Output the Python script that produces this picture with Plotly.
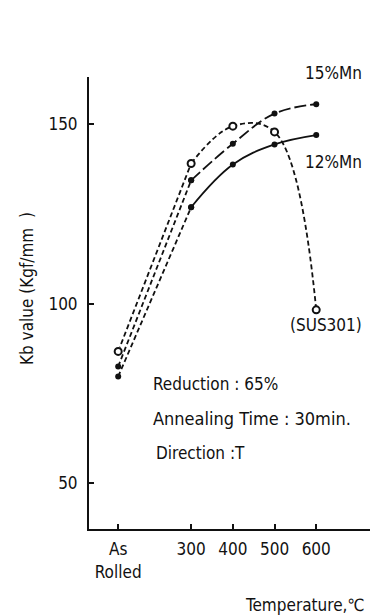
import plotly.graph_objects as go

# ---- data ----
temps = [300, 400, 500, 600]
as_rolled_pos = 125          # axis position used for the "As Rolled" state
x_labels = ["As<br>Rolled", "300", "400", "500", "600"]
mn15 = [82.5, 134.4, 144.6, 153.0, 155.6]
mn12 = [79.7, 126.9, 138.8, 144.4, 147.0]
sus301 = [86.7, 139.1, 149.5, 147.9, 98.3]
y_ticks = [50, 100, 150]

xs = [as_rolled_pos] + temps

FONT = "Liberation Sans Narrow, DejaVu Sans Condensed, Arial Narrow, sans-serif"
BLACK = "#111111"

# plot area in pixels
W, H = 371, 615
L, R, T, B = 89, 1, 77, 86
PW, PH = W - L - R, H - T - B


def px(xp, yp):
    return (xp - L) / PW, (H - B - yp) / PH


fig = go.Figure()

def seg(x, y, dash, shape, symbol, msize, mline):
    fig.add_trace(go.Scatter(
        x=x, y=y, mode="lines+markers", line=dict(color=BLACK, width=1.8, dash=dash, shape=shape, smoothing=1.1),
        marker=dict(symbol=symbol, size=msize, color=BLACK if symbol == "circle" else "white",
                    line=dict(color=BLACK, width=mline)),
        showlegend=False, hoverinfo="skip"))

# As rolled -> 300 dashed links
seg(xs[:2], mn12[:2], "5px,3px", "linear", "circle", 6, 0)
seg(xs[:2], mn15[:2], "5px,3px", "linear", "circle", 6, 0)
seg(xs[:2], sus301[:2], "5px,3px", "linear", "circle-open", 7, 2)
# annealed parts
seg(xs[1:], mn12[1:], "solid", "spline", "circle", 6, 0)
seg(xs[1:], mn15[1:], "12px,4px", "spline", "circle", 6, 0)
seg(xs[1:], sus301[1:], "5px,3px", "spline", "circle", 1, 0)
fig.add_trace(go.Scatter(x=xs, y=sus301, mode="markers",
                         marker=dict(symbol="circle", size=7, color="white", line=dict(color=BLACK, width=2)),
                         showlegend=False, hoverinfo="skip"))

annots = []
def text(t, xp, yp, size=17, xanchor="center", angle=0):
    x, y = px(xp, yp)
    annots.append(dict(text=t, x=x, y=y, xref="paper", yref="paper", xanchor=xanchor, yanchor="middle",
                       showarrow=False, textangle=angle, font=dict(family=FONT, size=size, color=BLACK)))

text("15%Mn", 333, 73)
text("12%Mn", 333, 162)
text("(SUS301)", 326, 325)
text("Reduction : 65%", 151, 384, xanchor="left")
text("Annealing Time : 30min.", 151, 418, xanchor="left", size=18)
text("Direction :T", 154, 453, xanchor="left")
text("Temperature,℃", 367, 605, xanchor="right")
text("Kb value (Kgf/mm  )", 27, 289, angle=-90)

fig.update_layout(
    width=W, height=H, margin=dict(l=L, r=R, t=T, b=B),
    paper_bgcolor="white", plot_bgcolor="white",
    annotations=annots,
    xaxis=dict(range=[55, 729], tickvals=xs, ticktext=x_labels, showgrid=False, zeroline=False,
               showline=True, linecolor=BLACK, linewidth=2, ticks="inside", ticklen=5, tickwidth=1.5,
               tickcolor=BLACK, ticklabelstandoff=4, tickfont=dict(family=FONT, size=17, color=BLACK)),
    yaxis=dict(range=[37.2, 163.2], tickvals=y_ticks, showgrid=False, zeroline=False,
               showline=True, linecolor=BLACK, linewidth=2, ticks="inside", ticklen=5, tickwidth=1.5,
               tickcolor=BLACK, ticklabelstandoff=6, tickfont=dict(family=FONT, size=17, color=BLACK)),
)

fig.write_html("out.html")
